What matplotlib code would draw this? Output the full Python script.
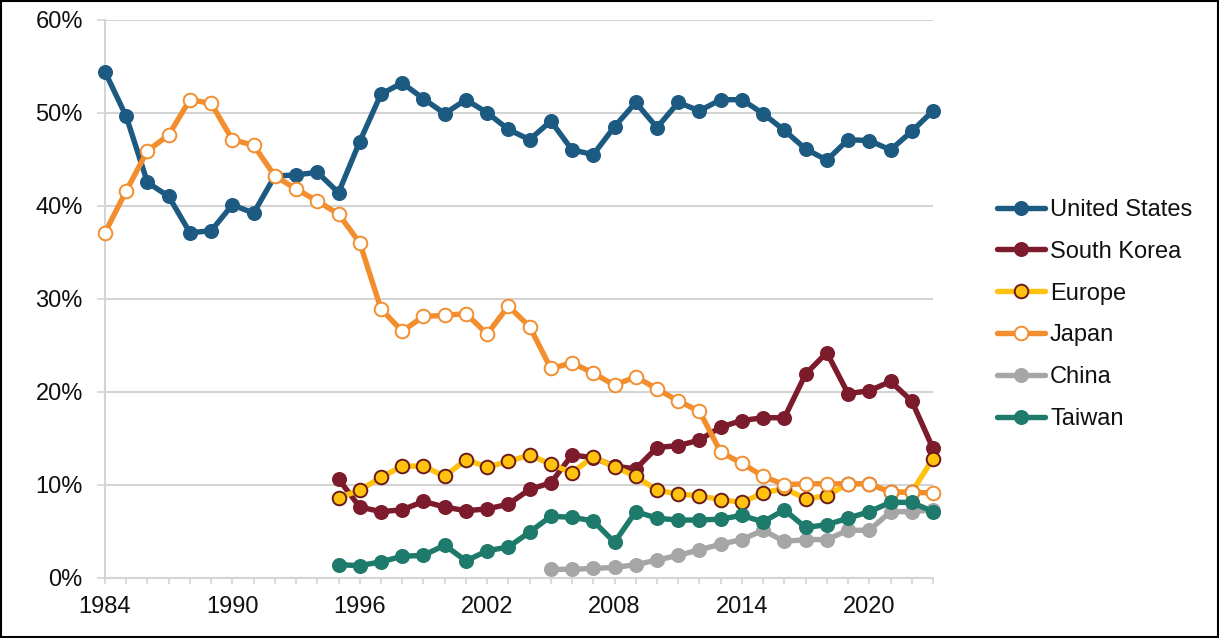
import matplotlib
matplotlib.use("Agg")
import matplotlib.pyplot as plt
from matplotlib.patches import Rectangle
from matplotlib.ticker import FuncFormatter, FixedLocator
import numpy as np

plt.rcParams['font.family'] = ['Liberation Sans', 'DejaVu Sans']

years = list(range(1984, 2024))

us = [54.4, 49.6, 42.5, 41.0, 37.1, 37.3, 40.1, 39.2, 43.2, 43.3,
      43.6, 41.4, 46.9, 52.0, 53.2, 51.5, 49.9, 51.4, 50.0, 48.2,
      47.1, 49.1, 46.0, 45.5, 48.5, 51.1, 48.4, 51.1, 50.2, 51.4,
      51.4, 49.9, 48.1, 46.1, 44.9, 47.1, 47.0, 46.0, 48.0, 50.2]

japan = [37.1, 41.6, 45.9, 47.6, 51.4, 51.0, 47.1, 46.5, 43.2, 41.8,
         40.5, 39.1, 36.0, 28.9, 26.5, 28.1, 28.2, 28.4, 26.2, 29.2,
         27.0, 22.5, 23.1, 22.0, 20.7, 21.6, 20.3, 19.0, 17.9, 13.5,
         12.3, 10.9, 10.0, 10.1, 10.1, 10.1, 10.1, 9.2, 9.2, 9.1]

sk_years = list(range(1995, 2024))
south_korea = [10.6, 7.6, 7.1, 7.3, 8.2, 7.6, 7.2, 7.4, 7.9, 9.5,
               10.2, 13.2, 12.9, 12.0, 11.7, 14.0, 14.2, 14.8, 16.2, 16.9,
               17.2, 17.2, 21.9, 24.2, 19.8, 20.1, 21.1, 19.0, 13.9]

eu_years = list(range(1995, 2024))
europe = [8.6, 9.4, 10.8, 12.0, 12.0, 10.9, 12.7, 11.9, 12.5, 13.2,
          12.2, 11.3, 13.0, 11.9, 10.9, 9.4, 9.0, 8.8, 8.4, 8.1,
          9.1, 9.6, 8.5, 8.8, 10.1, 10.1, 9.2, 9.2, 12.8]

tw_years = list(range(1995, 2024))
taiwan = [1.4, 1.3, 1.7, 2.3, 2.4, 3.5, 1.8, 2.9, 3.3, 4.9,
          6.6, 6.5, 6.1, 3.8, 7.1, 6.4, 6.2, 6.2, 6.3, 6.7,
          6.0, 7.3, 5.4, 5.7, 6.4, 7.1, 8.1, 8.1, 7.1]

cn_years = list(range(2005, 2024))
china = [0.9, 0.9, 1.0, 1.1, 1.4, 1.9, 2.4, 3.0, 3.6, 4.1,
         5.1, 3.9, 4.1, 4.1, 5.1, 5.1, 7.1, 7.1, 7.3]

label_years = [1984, 1990, 1996, 2002, 2008, 2014, 2020]

C_US = '#1D5A82'
C_SK = '#7B1B2B'
C_EU = '#FFC20E'
C_JP = '#F28E2E'
C_CN = '#A6A6A6'
C_TW = '#1E7A6B'
GRID = '#D4D4D4'

fig = plt.figure(figsize=(12.19, 6.38), dpi=100)
ax = fig.add_axes([105/1219, 1 - 577.7/638, (933 - 105)/1219, (577.7 - 19.7)/638])

lw = 3.9
ms = 9.8
common = dict(linewidth=lw, markersize=ms, clip_on=False, solid_capstyle='round',
              solid_joinstyle='round')

ax.plot(years, us, color=C_US, marker='o', markerfacecolor=C_US, markeredgecolor=C_US,
        label='United States', zorder=3, **common)
ax.plot(sk_years, south_korea, color=C_SK, marker='o', markerfacecolor=C_SK,
        markeredgecolor=C_SK, label='South Korea', zorder=4, **common)
ax.plot(eu_years, europe, color=C_EU, marker='o', markerfacecolor=C_EU,
        markeredgecolor='#6B1A1A', markeredgewidth=1.4, label='Europe', zorder=5, **common)
ax.plot(years, japan, color=C_JP, marker='o', markerfacecolor='white',
        markeredgecolor=C_JP, markeredgewidth=1.4, label='Japan', zorder=6, **common)
ax.plot(cn_years, china, color=C_CN, marker='o', markerfacecolor=C_CN,
        markeredgecolor=C_CN, label='China', zorder=7, **common)
ax.plot(tw_years, taiwan, color=C_TW, marker='o', markerfacecolor=C_TW,
        markeredgecolor=C_TW, label='Taiwan', zorder=8, **common)

ax.set_xlim(1984, 2023)
ax.set_ylim(0, 60)

ax.xaxis.set_major_locator(FixedLocator(years))
ax.set_xticklabels([str(y) if y in label_years else '' for y in years])
ax.set_yticks(np.arange(0, 61, 10))
ax.yaxis.set_major_formatter(FuncFormatter(lambda v, p: f"{int(v)}%"))

ax.grid(axis='y', color=GRID, linewidth=1.5, zorder=0)
ax.set_axisbelow(True)
for s in ['top', 'right']:
    ax.spines[s].set_visible(False)
for s in ['left', 'bottom']:
    ax.spines[s].set_color(GRID)
    ax.spines[s].set_linewidth(1.5)

ax.tick_params(axis='x', direction='out', length=4.5, width=1.2, color=GRID,
               labelsize=17, pad=9, labelcolor='#111111')
ax.tick_params(axis='y', direction='out', length=6, width=1.2, color=GRID,
               labelsize=17, pad=10, labelcolor='#111111')

leg = ax.legend(loc='center left', bbox_to_anchor=(997/1219, 1 - 314.5/638),
                bbox_transform=fig.transFigure, frameon=False, fontsize=17,
                handlelength=2.05, handletextpad=0.2, labelspacing=0.84,
                borderaxespad=0, borderpad=0)
for t in leg.get_texts():
    t.set_color('#111111')

fig.add_artist(Rectangle((0.0008, 0.0012), 0.9984, 0.9976, transform=fig.transFigure,
                         fill=False, edgecolor='black', linewidth=1.5))

fig.savefig('out.png', dpi=100)
